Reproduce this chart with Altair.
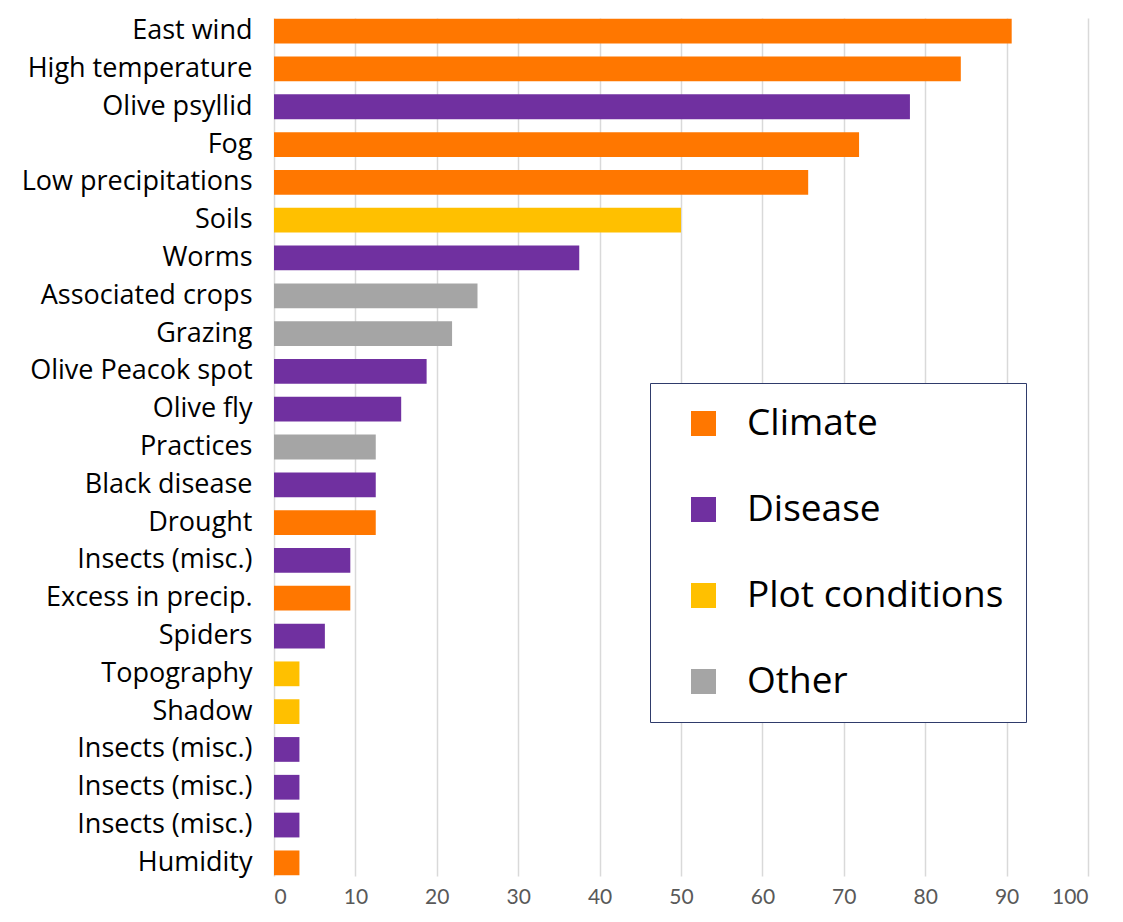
import altair as alt
import pandas as pd

labels = ["East wind", "High temperature", "Olive psyllid", "Fog", "Low precipitations",
          "Soils", "Worms", "Associated crops", "Grazing", "Olive Peacok spot", "Olive fly",
          "Practices", "Black disease", "Drought", "Insects (misc.)", "Excess in precip.",
          "Spiders", "Topography", "Shadow", "Insects (misc.)", "Insects (misc.)",
          "Insects (misc.)", "Humidity"]
values = [90.625, 84.375, 78.125, 71.875, 65.625, 50, 37.5, 25, 21.875, 18.75, 15.625,
          12.5, 12.5, 12.5, 9.375, 9.375, 6.25, 3.125, 3.125, 3.125, 3.125, 3.125, 3.125]
groups = ["Climate", "Climate", "Disease", "Climate", "Climate", "Plot conditions",
          "Disease", "Other", "Other", "Disease", "Disease", "Other", "Disease", "Climate",
          "Disease", "Climate", "Disease", "Plot conditions", "Plot conditions", "Disease",
          "Disease", "Disease", "Climate"]
group_order = ["Climate", "Disease", "Plot conditions", "Other"]
group_colors = ["#FF7700", "#7030A0", "#FFC000", "#A5A5A5"]
x_ticks = list(range(0, 101, 10))

df = pd.DataFrame({"idx": list(range(len(labels))), "label": labels,
                   "value": values, "group": groups})

label_js = "[" + ",".join("'" + l + "'" for l in labels) + "]"

chart = alt.Chart(df).mark_bar().encode(
    y=alt.Y("idx:O", title=None,
            scale=alt.Scale(paddingInner=0.345, paddingOuter=0.02),
            axis=alt.Axis(labelExpr=label_js + "[datum.value]", ticks=False, domain=False,
                          labelFont="Open Sans", labelFontSize=27, labelColor="#000000",
                          labelPadding=22, labelLimit=400)),
    x=alt.X("value:Q", title=None,
            scale=alt.Scale(domain=[0, 100], nice=False),
            axis=alt.Axis(values=x_ticks, grid=True, gridColor="#D9D9D9", gridWidth=1.5,
                          ticks=False, domain=False, labelFont="Lato", labelFontSize=21,
                          labelColor="#595959", labelPadding=10, labelFontWeight="normal")),
    color=alt.Color("group:N", title=None,
                    scale=alt.Scale(domain=group_order, range=group_colors),
                    legend=alt.Legend(orient="none", legendX=376, legendY=365,
                                      symbolType="square", symbolSize=625,
                                      symbolStrokeWidth=0, symbolOpacity=1,
                                      symbolOffset=13,
                                      labelFont="Open Sans", labelFontSize=37,
                                      labelColor="#000000", labelOffset=25,
                                      rowPadding=48, padding=22,
                                      strokeColor="#2F3B6B", fillColor="#FFFFFF",
                                      labelLimit=400)),
).properties(
    width=814, height=858,
    padding={"left": 266, "top": 10, "right": 25, "bottom": 30},
    autosize=alt.AutoSizeParams(type="none"),
).configure_view(stroke=None)

chart.save("out.html", embed_options={"renderer": "svg", "actions": False})
